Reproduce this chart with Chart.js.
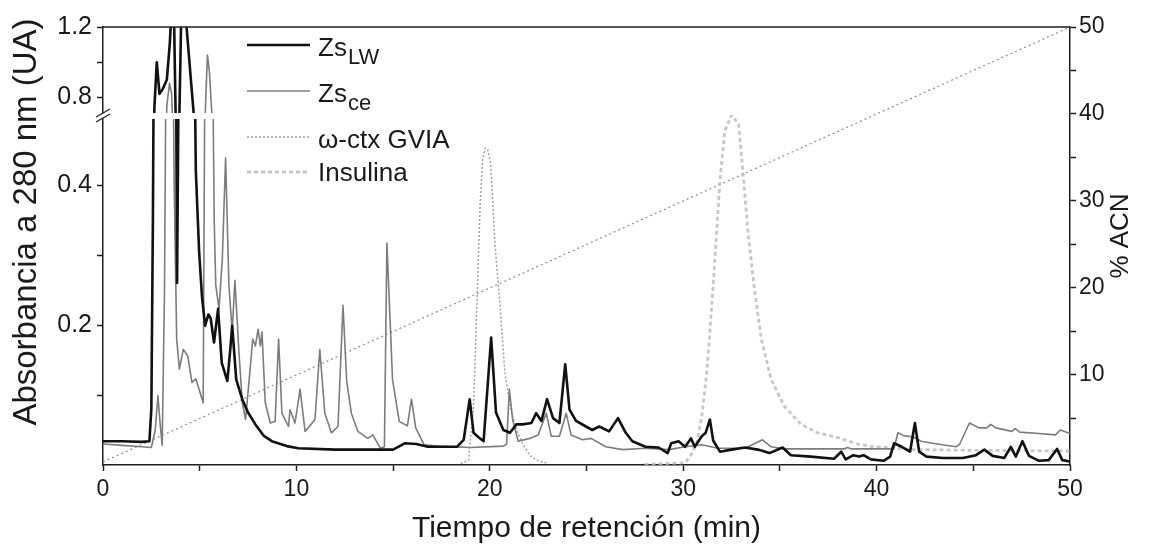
<!DOCTYPE html>
<html>
<head>
<meta charset="utf-8">
<script src="https://cdn.jsdelivr.net/npm/chart.js@4.4.1/dist/chart.umd.min.js"></script>
<style>
  html, body { margin: 0; padding: 0; background: #fff; }
</style>
</head>
<body>
<canvas id="chart" width="1154" height="547"></canvas>
<script>
// Zs LW (black trace), retention time in min / absorbance
const lwTime = [0, 1, 2, 2.4, 2.5, 2.58, 2.66, 2.78, 2.92, 3.1,
  3.3, 3.45, 3.55, 3.66, 3.74, 3.83, 3.95, 4.05, 4.2, 4.32,
  4.68, 4.8, 4.97, 5.12, 5.28, 5.45, 5.57, 5.74, 5.95, 6.14,
  6.43, 6.58, 6.68, 6.89, 7.2, 7.5, 7.88, 8.3, 8.73, 9.5,
  10.1, 12, 15, 15.6, 16.2, 16.8, 18.3, 18.65, 18.96, 19.16,
  19.4, 19.68, 20.07, 20.32, 20.7, 21.04, 21.38, 21.7, 22.15, 22.4,
  22.67, 22.96, 23.27, 23.6, 23.9, 24.12, 24.46, 24.97, 25.3, 25.66,
  26.17, 26.63, 27.03, 27.37, 28.05, 28.73, 29.2, 29.38, 29.76, 30.1,
  30.4, 30.6, 30.96, 31.16, 31.38, 31.55, 31.9, 32.5, 33.2, 33.86,
  34.46, 35.14, 35.57, 36.6, 37.8, 38.17, 38.4, 38.8, 39.1, 39.33,
  39.7, 40.36, 40.7, 40.9, 41.3, 41.73, 41.98, 42.2, 42.58, 43.44,
  44.46, 45.14, 45.57, 46.0, 46.6, 46.94, 47.2, 47.54, 47.88, 48.4,
  48.9, 49.33, 49.6, 50]
const lwAbs = [0.034, 0.034, 0.033, 0.034, 0.08, 0.35, 0.75, 1.0, 0.82, 0.85,
  0.9, 1.1, 1.3, 1.35, 0.8, 0.26, 0.7, 1.3, 1.35, 1.2,
  0.72, 0.42, 0.305, 0.24, 0.199, 0.215, 0.209, 0.175, 0.223, 0.146,
  0.12, 0.165, 0.199, 0.122, 0.094, 0.075, 0.058, 0.042, 0.034, 0.027,
  0.024, 0.022, 0.022, 0.031, 0.03, 0.026, 0.026, 0.036, 0.094, 0.046,
  0.04, 0.034, 0.182, 0.075, 0.05, 0.046, 0.058, 0.058, 0.06, 0.074,
  0.063, 0.094, 0.067, 0.06, 0.144, 0.079, 0.063, 0.055, 0.05, 0.055,
  0.048, 0.067, 0.046, 0.034, 0.026, 0.025, 0.017, 0.031, 0.034, 0.026,
  0.038, 0.026, 0.041, 0.046, 0.065, 0.035, 0.019, 0.022, 0.025, 0.022,
  0.017, 0.025, 0.014, 0.012, 0.009, 0.019, 0.008, 0.014, 0.012, 0.014,
  0.008, 0.006, 0.012, 0.031, 0.026, 0.019, 0.06, 0.019, 0.012, 0.01,
  0.01, 0.014, 0.022, 0.013, 0.01, 0.026, 0.012, 0.034, 0.013, 0.006,
  0.007, 0.023, 0.007, 0.005]

// Zs ce (grey trace)
const ceTime = [0, 1, 2, 2.5, 2.7, 2.84, 2.95, 3.06, 3.18, 3.3,
  3.44, 3.55, 3.68, 3.81, 3.95, 4.15, 4.38, 4.6, 4.8, 4.97,
  5.18, 5.3, 5.4, 5.5, 5.63, 5.75, 5.83, 6.0, 6.17, 6.34,
  6.51, 6.68, 6.82, 7.03, 7.2, 7.37, 7.62, 7.74, 7.88, 8.02,
  8.14, 8.22, 8.39, 8.65, 8.9, 9.08, 9.25, 9.59, 9.67, 9.93,
  10.19, 10.45, 10.96, 11.21, 11.47, 11.81, 12.15, 12.41, 12.6, 12.84,
  13.18, 13.69, 13.95, 14.34, 14.55, 14.68, 14.97, 15.32, 15.74, 15.95,
  16.17, 16.6, 17.28, 18.99, 20.7, 20.87, 21.01, 21.18, 21.47, 22.07,
  22.5, 22.92, 23.18, 23.6, 23.95, 24.2, 24.8, 25.23, 26.0, 26.86,
  28.05, 29.25, 30.1, 30.96, 31.8, 33.2, 34.1, 34.55, 35.2, 36.5,
  38.3, 38.5, 38.7, 40.9, 41.1, 41.4, 41.9, 42.3, 42.9, 44.1,
  44.3, 44.8, 45.3, 45.7, 45.9, 46.17, 47.0, 47.16, 47.4, 48.4,
  49.25, 49.5, 50]
const ceAbs = [0.03, 0.028, 0.026, 0.025, 0.05, 0.099, 0.06, 0.028, 0.25, 0.75,
  0.88, 0.82, 0.4, 0.18, 0.137, 0.165, 0.156, 0.118, 0.123, 0.108,
  0.089, 0.75, 1.04, 0.95, 0.7, 0.35, 0.257, 0.223, 0.295, 0.439,
  0.257, 0.19, 0.264, 0.161, 0.09, 0.065, 0.141, 0.18, 0.17, 0.194,
  0.17, 0.19, 0.089, 0.06, 0.062, 0.18, 0.074, 0.055, 0.079, 0.06,
  0.108, 0.048, 0.065, 0.165, 0.074, 0.046, 0.055, 0.228, 0.12, 0.074,
  0.048, 0.038, 0.043, 0.024, 0.026, 0.317, 0.122, 0.062, 0.056, 0.094,
  0.053, 0.029, 0.027, 0.025, 0.027, 0.03, 0.108, 0.065, 0.034, 0.038,
  0.043, 0.074, 0.041, 0.041, 0.074, 0.043, 0.036, 0.038, 0.026, 0.022,
  0.024, 0.022, 0.026, 0.029, 0.024, 0.024, 0.036, 0.026, 0.023, 0.023,
  0.023, 0.025, 0.023, 0.023, 0.046, 0.042, 0.04, 0.034, 0.031, 0.026,
  0.03, 0.06, 0.053, 0.053, 0.058, 0.053, 0.048, 0.052, 0.047, 0.045,
  0.043, 0.05, 0.045]

// w-ctx GVIA standard
const ctxTime = [18.5, 18.9, 19.16, 19.33, 19.5, 19.62, 19.76, 19.9, 20.05, 20.27,
  20.53, 20.78, 21.04, 21.38, 21.73, 22.07, 22.4, 23]
const ctxAbs = [0.002, 0.007, 0.084, 0.228, 0.372, 0.434, 0.453, 0.45, 0.43, 0.314,
  0.228, 0.132, 0.085, 0.05, 0.029, 0.014, 0.007, 0.002]

// insulin standard
const insTime = [28, 30.1, 30.36, 30.7, 30.96, 31.2, 31.38, 31.55, 31.73, 31.9,
  32.15, 32.5, 32.87, 33.1, 33.35, 33.7, 34.04, 34.55, 35.23, 36.09,
  36.94, 37.9, 39.0, 39.85, 42, 45, 50]
const insAbs = [0.001, 0.003, 0.012, 0.031, 0.07, 0.127, 0.19, 0.257, 0.333, 0.405,
  0.477, 0.5, 0.487, 0.415, 0.333, 0.247, 0.18, 0.122, 0.084, 0.058,
  0.046, 0.04, 0.03, 0.026, 0.022, 0.021, 0.02]

// acetonitrile gradient
const acnTime = [0, 50]
const acnPct = [0, 50]

// ticks
const timeTicks = [0, 5, 10, 15, 20, 25, 30, 35, 40, 45, 50]
const timeLabels = [0, 10, 20, 30, 40, 50]
const absLowTicks = [0.1, 0.2, 0.3, 0.4]
const absHighTicks = [0.8, 1.0, 1.2]
const absLabels = [0.2, 0.4, 0.8, 1.2]
const acnTicks = [5, 10, 15, 20, 25, 30, 35, 40, 45, 50]
const acnLabels = [10, 20, 30, 40, 50]

const legendNames = ['Zs', 'Zs', 'ω-ctx GVIA', 'Insulina']
const legendSubs = ['LW', 'ce', '', '']

const FONT = "'Liberation Sans', Arial, Helvetica, sans-serif"
const axisColor = '#1e1e1e'
const textColor = '#1a1a1a'
const breakGap = 4

function pts(xs, ys) {
  return xs.map((x, i) => ({x: x, y: ys[i]}))
}

// clip the absorbance traces to their own half of the broken axis
const axisClip = {
  id: 'axisClip',
  beforeDatasetDraw(chart, args) {
    const ds = chart.data.datasets[args.index]
    const sc = chart.scales[args.meta.yAxisID]
    if (!ds.breakClip) return
    const a = chart.chartArea
    let top = sc.top, bottom = sc.bottom
    if (args.meta.yAxisID === 'yLow') top += breakGap
    else bottom -= breakGap
    const ctx = chart.ctx
    ctx.save()
    ctx.beginPath()
    ctx.rect(a.left - 2, top, a.right - a.left + 4, bottom - top + 2)
    ctx.clip()
  },
  afterDatasetDraw(chart, args) {
    if (chart.data.datasets[args.index].breakClip) chart.ctx.restore()
  }
}

function drawRotated(ctx, text, x, y, size) {
  ctx.save()
  ctx.translate(x, y)
  ctx.rotate(-Math.PI / 2)
  ctx.font = size + 'px ' + FONT
  ctx.textAlign = 'center'
  ctx.textBaseline = 'middle'
  ctx.fillStyle = textColor
  ctx.fillText(text, 0, 0)
  ctx.restore()
}

const decor = {
  id: 'decor',
  afterDraw(chart) {
    const ctx = chart.ctx
    const a = chart.chartArea
    ctx.save()
    // top frame line
    ctx.strokeStyle = axisColor
    ctx.lineWidth = 1.5
    ctx.beginPath()
    ctx.moveTo(a.left, a.top)
    ctx.lineTo(a.right, a.top)
    ctx.stroke()

    // axis break marks
    const yb = chart.scales.yHigh.bottom
    const x0 = a.left
    ctx.fillStyle = '#fff'
    ctx.beginPath()
    ctx.moveTo(x0 - 7, yb + 7)
    ctx.lineTo(x0 + 7, yb - 1)
    ctx.lineTo(x0 + 7, yb - 6)
    ctx.lineTo(x0 - 7, yb + 2)
    ctx.closePath()
    ctx.fill()
    ctx.lineWidth = 1.3
    ctx.beginPath()
    ctx.moveTo(x0 - 7, yb + 7)
    ctx.lineTo(x0 + 7, yb - 1)
    ctx.moveTo(x0 - 7, yb + 2)
    ctx.lineTo(x0 + 7, yb - 6)
    ctx.stroke()

    // y titles
    drawRotated(ctx, 'Absorbancia a 280 nm (UA)', 27, 222, 33)
    drawRotated(ctx, '% ACN', 1121, 236, 26)

    // legend
    const rowY = [45, 91, 137, 172]
    const textY = [56, 102, 148, 181]
    const src = [0, 2, 4, 5]
    legendNames.forEach((name, i) => {
      const ds = chart.data.datasets[src[i]]
      ctx.strokeStyle = ds.borderColor
      ctx.lineWidth = ds.borderWidth
      ctx.setLineDash(ds.borderDash || [])
      ctx.beginPath()
      ctx.moveTo(247, rowY[i])
      ctx.lineTo(310, rowY[i])
      ctx.stroke()
      ctx.setLineDash([])
      ctx.fillStyle = textColor
      ctx.textAlign = 'left'
      ctx.textBaseline = 'alphabetic'
      ctx.font = '26px ' + FONT
      ctx.fillText(name, 318, textY[i])
      if (legendSubs[i]) {
        const w = ctx.measureText(name).width
        ctx.font = '22px ' + FONT
        ctx.fillText(legendSubs[i], 318 + w + 1, textY[i] + 8)
      }
    })
    ctx.restore()
  }
}

const tickFont = {family: FONT, size: 23}
const yTickFont = {family: FONT, size: 25}

function sideAxis(ticks, min, max, weight) {
  return {
    type: 'linear',
    position: 'left',
    stack: 'abs',
    stackWeight: weight,
    min: min,
    max: max,
    afterBuildTicks: s => { s.ticks = ticks.map(v => ({value: v})) },
    afterFit: s => { s.width = 53 },
    border: {color: axisColor, width: 1.5},
    grid: {drawOnChartArea: false, tickLength: 6, tickWidth: 1.5, tickColor: axisColor},
    ticks: {
      font: yTickFont, color: textColor, padding: 5, autoSkip: false,
      callback: v => absLabels.some(l => Math.abs(l - v) < 1e-6) ? v.toFixed(1) : ''
    }
  }
}

const lineBase = {pointRadius: 0, tension: 0, fill: false, borderJoinStyle: 'round'}

new Chart(document.getElementById('chart'), {
  type: 'line',
  data: {
    datasets: [
      Object.assign({label: 'Zs LW', data: pts(lwTime, lwAbs), yAxisID: 'yLow', borderColor: '#111', borderWidth: 2.6, order: 0, breakClip: true}, lineBase),
      Object.assign({label: 'Zs LW hi', data: pts(lwTime, lwAbs), yAxisID: 'yHigh', borderColor: '#111', borderWidth: 2.6, order: 0, breakClip: true}, lineBase),
      Object.assign({label: 'Zs ce', data: pts(ceTime, ceAbs), yAxisID: 'yLow', borderColor: '#7c7c7c', borderWidth: 1.6, order: 1, breakClip: true}, lineBase),
      Object.assign({label: 'Zs ce hi', data: pts(ceTime, ceAbs), yAxisID: 'yHigh', borderColor: '#7c7c7c', borderWidth: 1.6, order: 1, breakClip: true}, lineBase),
      Object.assign({label: 'ω-ctx GVIA', data: pts(ctxTime, ctxAbs), yAxisID: 'yLow', borderColor: '#a0a0a0', borderWidth: 1.5, borderDash: [2, 2], order: 2}, lineBase),
      Object.assign({label: 'Insulina', data: pts(insTime, insAbs), yAxisID: 'yLow', borderColor: 'rgba(185,185,185,0.8)', borderWidth: 2.8, borderDash: [4, 3], order: 3}, lineBase),
      Object.assign({label: '% ACN', data: pts(acnTime, acnPct), yAxisID: 'acn', borderColor: '#8c8c8c', borderWidth: 1.2, borderDash: [2, 3], order: 4}, lineBase)
    ]
  },
  options: {
    responsive: false,
    animation: false,
    events: [],
    layout: {padding: {left: 50, right: 44, top: 27, bottom: 0}},
    plugins: {legend: {display: false}, tooltip: {enabled: false}},
    scales: {
      x: {
        type: 'linear',
        position: 'bottom',
        min: 0,
        max: 50,
        afterBuildTicks: s => { s.ticks = timeTicks.map(v => ({value: v})) },
        afterFit: s => { s.height = 82 },
        border: {color: axisColor, width: 1.5},
        grid: {drawOnChartArea: false, tickLength: 6, tickWidth: 1.5, tickColor: axisColor},
        ticks: {
          font: tickFont, color: textColor, padding: 5, autoSkip: false, maxRotation: 0,
          callback: v => timeLabels.includes(v) ? String(v) : ''
        },
        title: {display: true, text: 'Tiempo de retención (min)', color: textColor, font: {family: FONT, size: 30}, padding: 0}
      },
      yLow: sideAxis(absLowTicks, 0, 0.5, 350),
      yHigh: sideAxis(absHighTicks, 0.7, 1.2, 88),
      acn: {
        type: 'linear',
        position: 'right',
        min: -0.35,
        max: 50,
        afterBuildTicks: s => { s.ticks = acnTicks.map(v => ({value: v})) },
        afterFit: s => { s.width = 40 },
        border: {color: axisColor, width: 1.5},
        grid: {drawOnChartArea: false, tickLength: 6, tickWidth: 1.5, tickColor: axisColor},
        ticks: {
          font: tickFont, color: textColor, padding: 3, autoSkip: false,
          callback: v => acnLabels.includes(v) ? String(v) : ''
        }
      }
    }
  },
  plugins: [axisClip, decor]
})
</script>
</body>
</html>
